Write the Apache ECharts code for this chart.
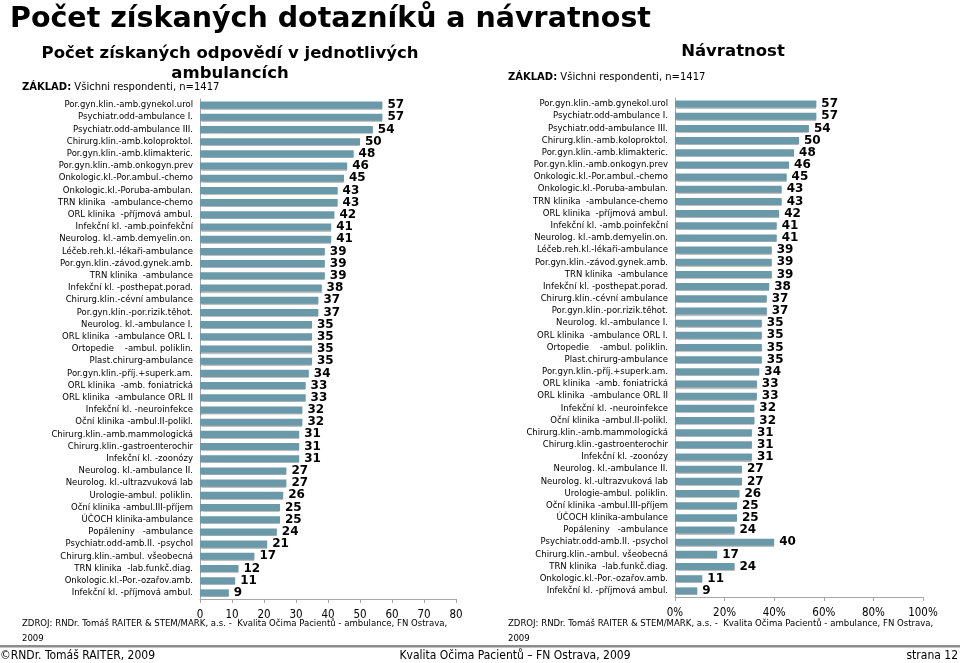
<!DOCTYPE html>
<html><head><meta charset="utf-8">
<script src="https://cdn.jsdelivr.net/npm/echarts@6/dist/echarts.min.js"></script>
<style>html,body{margin:0;padding:0;background:#fff}#c{width:960px;height:663px}</style>
</head><body><div id="c"></div>
<script>
const categories = [
"Por.gyn.klin.-amb.gynekol.urol","Psychiatr.odd-ambulance I.","Psychiatr.odd-ambulance III.","Chirurg.klin.-amb.koloproktol.",
"Por.gyn.klin.-amb.klimakteric.","Por.gyn.klin.-amb.onkogyn.prev","Onkologic.kl.-Por.ambul.-chemo","Onkologic.kl.-Poruba-ambulan.",
"TRN klinika  -ambulance-chemo","ORL klinika  -příjmová ambul.","Infekční kl. -amb.poinfekční","Neurolog. kl.-amb.demyelin.on.",
"Léčeb.reh.kl.-lékaři-ambulance","Por.gyn.klin.-závod.gynek.amb.","TRN klinika  -ambulance","Infekční kl. -posthepat.porad.",
"Chirurg.klin.-cévní ambulance","Por.gyn.klin.-por.rizik.těhot.","Neurolog. kl.-ambulance I.","ORL klinika  -ambulance ORL I.",
"Ortopedie    -ambul. poliklin.","Plast.chirurg-ambulance","Por.gyn.klin.-příj.+superk.am.","ORL klinika  -amb. foniatrická",
"ORL klinika  -ambulance ORL II","Infekční kl. -neuroinfekce","Oční klinika -ambul.II-polikl.","Chirurg.klin.-amb.mammologická",
"Chirurg.klin.-gastroenterochir","Infekční kl. -zoonózy","Neurolog. kl.-ambulance II.","Neurolog. kl.-ultrazvuková lab",
"Urologie-ambul. poliklin.","Oční klinika -ambul.III-příjem","ÚČOCH klinika-ambulance","Popáleniny   -ambulance",
"Psychiatr.odd-amb.II. -psychol","Chirurg.klin.-ambul. všeobecná","TRN klinika  -lab.funkč.diag.","Onkologic.kl.-Por.-ozařov.amb.",
"Infekční kl. -příjmová ambul."];
const counts = [57,57,54,50,48,46,45,43,43,42,41,41,39,39,39,38,37,37,35,35,35,35,34,33,33,32,32,31,31,31,27,27,26,25,25,24,21,17,12,11,9];
const returnRate = [57,57,54,50,48,46,45,43,43,42,41,41,39,39,39,38,37,37,35,35,35,35,34,33,33,32,32,31,31,31,27,27,26,25,25,24,40,17,24,11,9];
const countTicks = {min:0, max:80, interval:10};
const rateTicks = {min:0, max:100, interval:20};

const FONT = '"DejaVu Sans", Verdana, sans-serif';
const CFONT = '"DejaVu Sans Condensed", "DejaVu Sans", sans-serif';
const barColor = '#6a9aa9';
const chart = echarts.init(document.getElementById('c'), null, {renderer:'canvas'});

function yAx(gi){
  return {type:'category', gridIndex:gi, data:categories, inverse:true,
    axisLine:{show:true, lineStyle:{color:'#a6a6a6'}}, axisTick:{show:false},
    axisLabel:{fontFamily:FONT, fontSize:8.5, color:'#000', margin:7, interval:0}};
}
function xAx(gi, t, fmt){
  return {type:'value', gridIndex:gi, min:t.min, max:t.max, interval:t.interval,
    splitLine:{show:false},
    axisLine:{show:true, lineStyle:{color:'#a6a6a6'}},
    axisTick:{show:true, length:4, inside:false, lineStyle:{color:'#a6a6a6'}},
    axisLabel:{fontFamily:CFONT, fontSize:11.5, color:'#000', margin:10, formatter:fmt}};
}
function ser(gi, data){
  return {type:'bar', xAxisIndex:gi, yAxisIndex:gi, data:data, barCategoryGap:'42%',
    itemStyle:{color:barColor, shadowColor:'rgba(0,0,0,0.25)', shadowOffsetY:1, shadowBlur:1},
    label:{show:true, position:'right', distance:5, fontFamily:FONT, fontWeight:'bold', fontSize:12, color:'#000'},
    animation:false};
}

chart.setOption({
  animation:false,
  grid:[
    {left:200, right:504, top:99, bottom:64},
    {left:675, right:37, top:98, bottom:66}
  ],
  yAxis:[yAx(0), yAx(1)],
  xAxis:[xAx(0, countTicks, '{value}'), xAx(1, rateTicks, '{value}%')],
  series:[ser(0, counts), ser(1, returnRate)],
  graphic:[
    {type:'text', left:10, top:5, style:{text:'Počet získaných dotazníků a návratnost', font:'bold 28.5px '+FONT, fill:'#000'}},
    {type:'text', x:230, y:44, style:{text:'Počet získaných odpovědí v jednotlivých\nambulancích', font:'bold 16.5px '+FONT, fill:'#000', align:'center', lineHeight:20}},
    {type:'text', x:733, y:43, style:{text:'Návratnost', font:'bold 16.5px '+FONT, fill:'#000', align:'center'}},
    {type:'text', x:22, y:82, style:{text:'{b|ZÁKLAD:} Všichni respondenti, n=1417', rich:{b:{font:'bold 10px '+FONT, fill:'#000'}}, font:'10px '+FONT, fill:'#000'}},
    {type:'text', x:508, y:72, style:{text:'{b|ZÁKLAD:} Všichni respondenti, n=1417', rich:{b:{font:'bold 10px '+FONT, fill:'#000'}}, font:'10px '+FONT, fill:'#000'}},
    {type:'text', x:22, y:616, style:{text:'ZDROJ: RNDr. Tomáš RAITER & STEM/MARK, a.s. -  Kvalita Očima Pacientů - ambulance, FN Ostrava,\n2009', font:'9.5px '+CFONT, fill:'#000', lineHeight:15}},
    {type:'text', x:508, y:616, style:{text:'ZDROJ: RNDr. Tomáš RAITER & STEM/MARK, a.s. -  Kvalita Očima Pacientů - ambulance, FN Ostrava,\n2009', font:'9.5px '+CFONT, fill:'#000', lineHeight:15}},
    {type:'rect', shape:{x:0, y:645, width:960, height:2.5}, style:{fill:'#8c8c8c'}},
    {type:'text', x:0, y:650, style:{text:'©RNDr. Tomáš RAITER, 2009', font:'12px '+CFONT, fill:'#000'}},
    {type:'text', x:515, y:650, style:{text:'Kvalita Očima Pacientů – FN Ostrava, 2009', font:'12px '+CFONT, fill:'#000', align:'center'}},
    {type:'text', x:958, y:650, style:{text:'strana 12', font:'12px '+CFONT, fill:'#000', align:'right'}}
  ]
});
</script></body></html>
